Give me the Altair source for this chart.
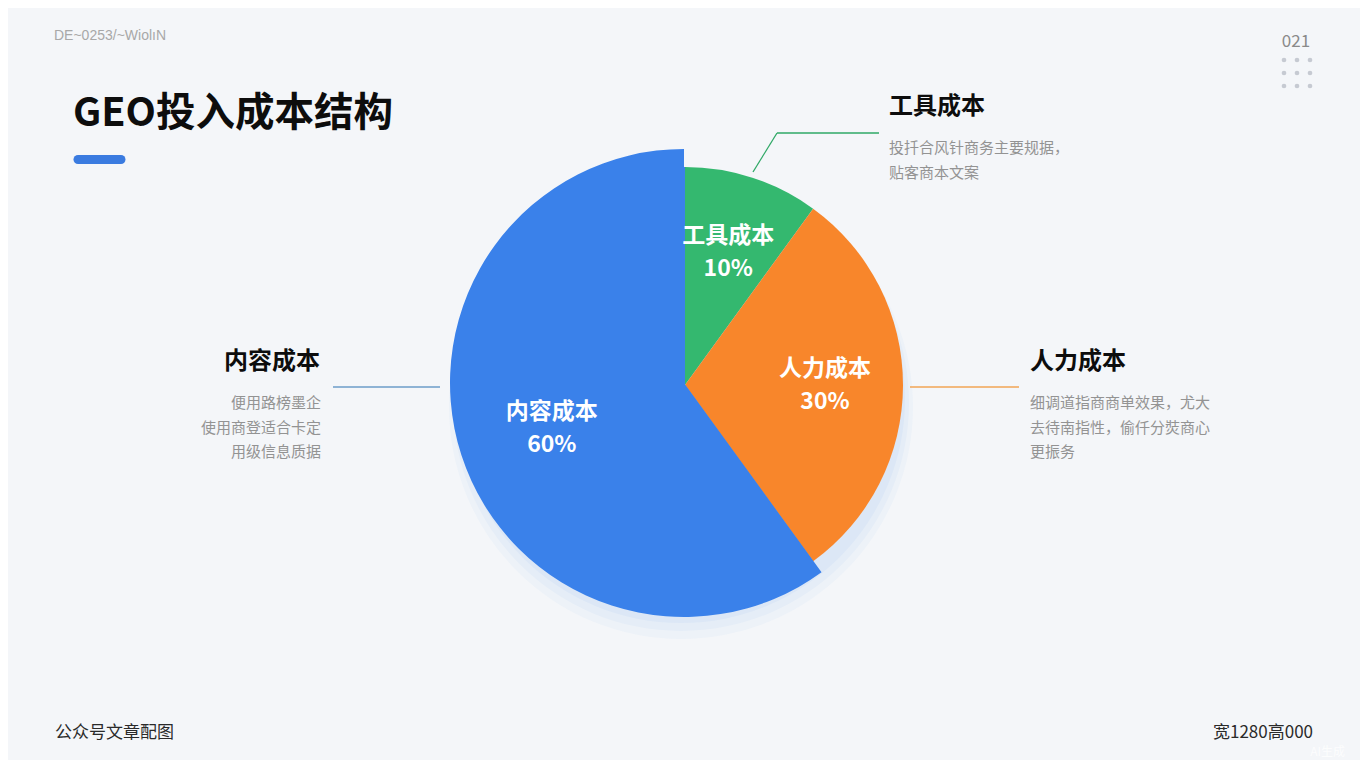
import altair as alt
import pandas as pd

# ---- data ----
categories = ["工具成本", "人力成本", "内容成本"]
shares = [10, 30, 60]
slice_order = [0, 1, 2]
colors = ["#34b86f", "#f8862b", "#3a81ea"]

title_text = "GEO投入成本结构"
desc_tool = ["投扦合风针商务主要规据，", "贴客商本文案"]
desc_people = ["细调道指商商单效果，尤大", "去待南指性，偷仟分焋商心", "更振务"]
desc_content = ["便用路榜墨企", "使用商登适合卡定", "用级信息质据"]
corner_tl = "DE~0253/~WiolıN"
page_no = "021"
foot_left = "公众号文章配图"
foot_right = "宽1280高000"
dot_cols = [0, 1, 2, 0, 1, 2, 0, 1, 2]
dot_rows = [0, 0, 0, 1, 1, 1, 2, 2, 2]

FONT = "Noto Sans CJK SC"
W, H = 1352, 752
CX, CY = 685 - 8, 385 - 8

df = pd.DataFrame({"name": categories, "share": shares, "ord": slice_order})
df["label"] = df["name"] + "\n" + df["share"].astype(str) + "%"

color_scale = alt.Scale(domain=categories, range=colors)
base = alt.Chart(df)
theta = alt.Theta("share:Q", stack=True)
order = alt.Order("ord:Q")

one = alt.Data(values=[{"a": 1}])


def txt(t, x, y, size, color="#111111", weight="normal", align="left", font=FONT, opacity=1):
    kw = dict(text=t, font=font, fontSize=size, color=color, fontWeight=weight,
              align=align, baseline="middle", opacity=opacity)
    return alt.Chart(one).mark_text(**kw).encode(x=alt.value(x - 8), y=alt.value(y - 8))


def hline(x1, x2, y, color, w=1.3):
    return alt.Chart(one).mark_rule(color=color, strokeWidth=w).encode(
        x=alt.value(x1 - 8), x2=alt.value(x2 - 8), y=alt.value(y - 8))


layers = []

# soft shadow under the pie
for r, op, off in [(232, 0.035, 22), (228, 0.04, 18), (224, 0.05, 14)]:
    layers.append(alt.Chart(one).mark_arc(radius=r, theta=0, theta2=6.2832,
                                          color="#3a81ea", opacity=op)
                  .encode(x=alt.value(CX - 4), y=alt.value(CY + off)))

# pie slices
layers.append(base.mark_arc(radius=218).encode(
    theta=theta, order=order,
    color=alt.Color("name:N", scale=color_scale, legend=None),
    x=alt.value(CX), y=alt.value(CY)))
layers.append(base.mark_arc(radius=234).encode(
    theta=theta, order=order,
    color=alt.Color("name:N", scale=color_scale, legend=None),
    opacity=alt.condition(alt.datum.name == "内容成本", alt.value(1), alt.value(0)),
    x=alt.value(CX - 1), y=alt.value(CY - 2)))
# slice labels
layers.append(base.mark_text(radius=140, font=FONT, fontSize=23, fontWeight="bold",
                             color="white", lineBreak="\n", lineHeight=33,
                             baseline="middle", dy=-16).encode(
    theta=theta, order=order, text="label:N",
    x=alt.value(CX), y=alt.value(CY)))

# callout lines
layers.append(alt.Chart(one).mark_rule(color="#2fa866", strokeWidth=1.3).encode(
    x=alt.value(753 - 8), y=alt.value(172 - 8), x2=alt.value(777 - 8), y2=alt.value(133 - 8)))
layers.append(hline(777, 879, 133, "#2fa866"))
layers.append(hline(333, 440, 387, "#6c9cc9"))
layers.append(hline(910, 1019, 387, "#f2a455"))

# title and accent bar
layers.append(txt(title_text, 73, 114, 39.5, "#0d0d0d", "bold"))
layers.append(alt.Chart(one).mark_rule(color="#3a7be0", strokeWidth=9, strokeCap="round").encode(
    x=alt.value(78 - 8), x2=alt.value(121 - 8), y=alt.value(159.5 - 8)))

# right / left annotations
layers.append(txt("工具成本", 889, 107, 24, "#0d0d0d", "bold"))
for i, s in enumerate(desc_tool):
    layers.append(txt(s, 889, 148 + 25 * i, 15, "#939393"))
layers.append(txt("人力成本", 1030, 362, 24, "#0d0d0d", "bold"))
for i, s in enumerate(desc_people):
    layers.append(txt(s, 1030, 403 + 24.5 * i, 15, "#939393"))
layers.append(txt("内容成本", 320, 362, 24, "#0d0d0d", "bold", align="right"))
for i, s in enumerate(desc_content):
    layers.append(txt(s, 321, 403 + 24.5 * i, 15, "#939393", align="right"))

# corners
layers.append(txt(corner_tl, 54, 36, 14, "#a8a8a8", font="Liberation Sans"))
layers.append(txt(page_no, 1296, 42, 17, "#8a8a8a", align="center"))
dots = pd.DataFrame({"c": dot_cols, "r": dot_rows})
layers.append(alt.Chart(dots).mark_circle(size=22, color="#c6cad2", opacity=1).encode(
    x=alt.X("c:Q", scale=alt.Scale(domain=[0, 2], range=[1284 - 8, 1310 - 8]), axis=None),
    y=alt.Y("r:Q", scale=alt.Scale(domain=[0, 2], range=[60 - 8, 86 - 8]), axis=None)))
layers.append(txt(foot_left, 55, 733, 17, "#2a2a2a"))
layers.append(txt(foot_right, 1313, 733, 17, "#2a2a2a", align="right"))
layers.append(txt("AI生成", 1345, 752, 12, "#ffffff", align="right", opacity=0.8))

chart = alt.layer(*layers).properties(
    width=W, height=H, padding=0,
    autosize=alt.AutoSizeParams(type="fit", contains="padding"),
    background="#f4f6f9",
).configure_view(stroke=None)

chart.save("out.html", embed_options={"renderer": "svg", "actions": False})
